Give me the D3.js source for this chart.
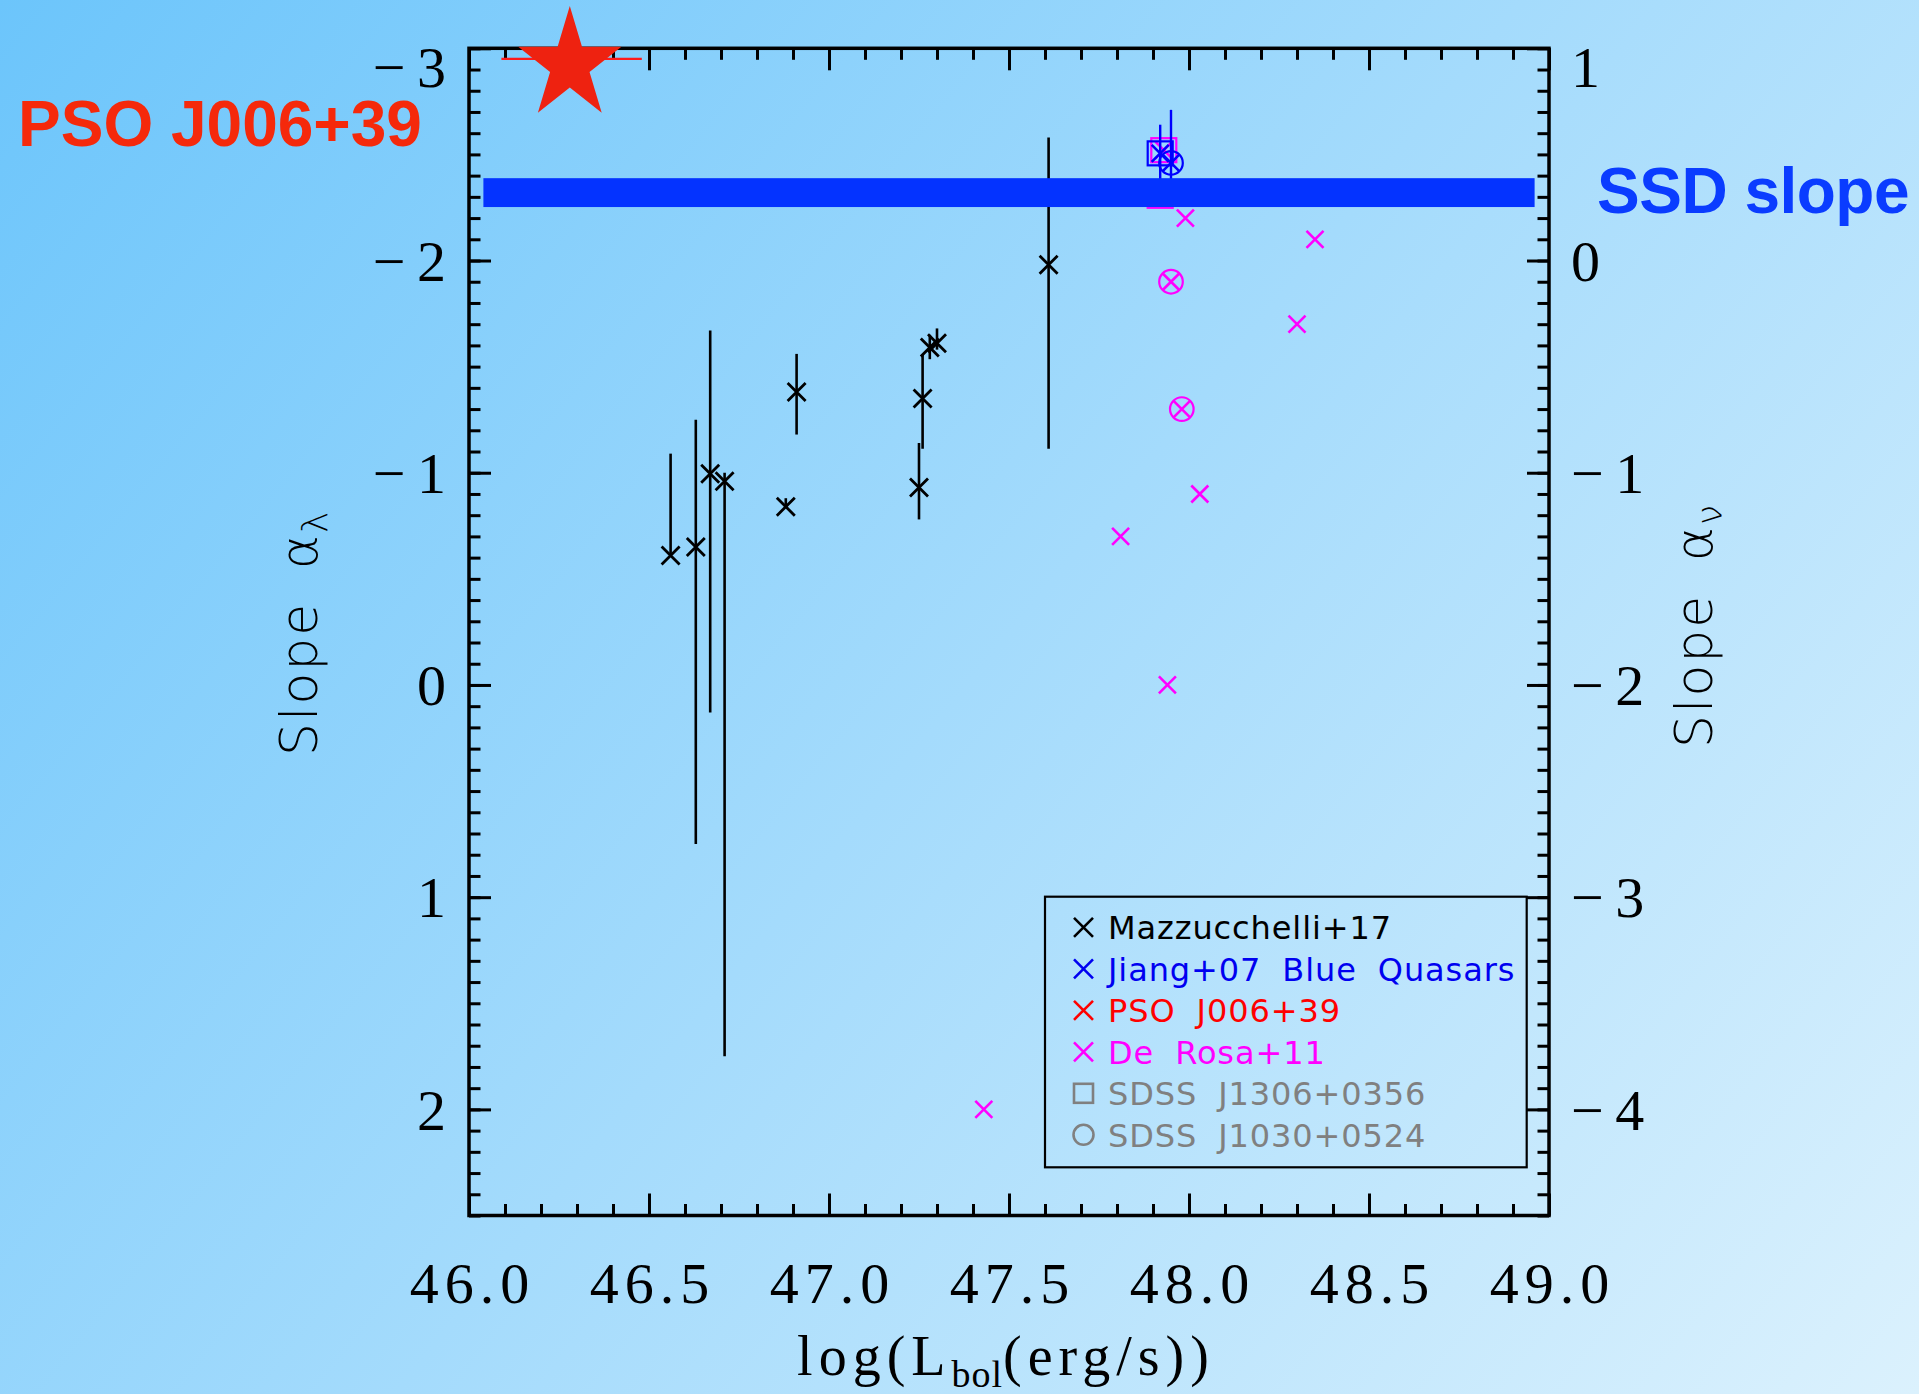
<!DOCTYPE html>
<html><head><meta charset="utf-8">
<script src="https://cdn.jsdelivr.net/npm/d3@7"></script>
<style>
html,body{margin:0;padding:0;overflow:hidden;background:#fff;}
svg{display:block;}
</style></head><body>
<svg id="chart" width="1919" height="1394"></svg>
<script>
// ---------- data ----------
// Mazzucchelli+17 quasars: log Lbol, slope alpha_lambda, error-bar ends
const mazLbol  = [46.56, 46.63, 46.67, 46.71, 46.88, 46.91, 47.25, 47.26, 47.28, 47.30, 47.61];
const mazSlope = [-0.61, -0.65, -0.995, -0.96, -0.84, -1.38, -0.93, -1.35, -1.59, -1.61, -1.98];
const mazErrLo = [-1.09, -1.25, -1.67, -1.00, -0.88, -1.56, -1.14, -1.556, -1.65, -1.68, -2.58];
const mazErrHi = [-0.61, 0.75, 0.13, 1.75, -0.84, -1.18, -0.78, -1.113, -1.535, -1.58, -1.113];

// Jiang+07 blue quasars (first: SDSS J1306+0356, second: SDSS J1030+0524)
const jiangLbol  = [47.92, 47.95];
const jiangSlope = [-2.505, -2.46];
const jiangErrLo = [-2.64, -2.71];
const jiangErrHi = [-2.30, -2.28];
const jiangTag   = ["square", "circle"];

// De Rosa+11
const deRosaLbol  = [47.93, 47.92, 47.99, 48.35, 47.95, 48.30, 47.98, 48.03, 47.81, 47.94, 47.43];
const deRosaSlope = [-2.52, -2.305, -2.20, -2.10, -1.90, -1.70, -1.30, -0.90, -0.70, 0.00, 2.00];
const deRosaTag   = ["square", "square", "", "", "circle", "", "circle", "", "", "", ""];

// PSO J006+39
const psoLbol = [46.28];
const psoSlope = [-2.95];
const psoLbolErr = [[46.09, 46.48]];

// Standard thin disc slope band (alpha_lambda)
const ssdSlope = -2.32;
const ssdHalfWidth = 0.068;
const ssdLbolRange = [46.04, 48.96];

// axis ticks
const xMajor = [46.0, 46.5, 47.0, 47.5, 48.0, 48.5, 49.0];
const yMajor = [-3, -2, -1, 0, 1, 2];
const yRMajor = [1, 0, -1, -2, -3, -4];

// legend entries
const legendLabels = ["Mazzucchelli+17", "Jiang+07 Blue Quasars", "PSO J006+39", "De Rosa+11", "SDSS J1306+0356", "SDSS J1030+0524"];
const legendColors = ["#000000", "#0000f0", "#ff0000", "#ff00ff", "#808080", "#808080"];
const legendSymbols = ["x", "x", "x", "x", "square", "circle"];

// ---------- layout ----------
const W = 1919, H = 1394;
const svg = d3.select("#chart");
const defs = svg.append("defs");
const grad = defs.append("linearGradient").attr("id", "bg")
  .attr("gradientUnits", "userSpaceOnUse")
  .attr("x1", 0).attr("y1", 0).attr("x2", 1842).attr("y2", 1489);
grad.append("stop").attr("offset", 0).attr("stop-color", "#6cc5fb");
grad.append("stop").attr("offset", 0.5).attr("stop-color", "#a4dbfc");
grad.append("stop").attr("offset", 1).attr("stop-color", "#dbf1fd");
svg.append("rect").attr("width", W).attr("height", H).attr("fill", "url(#bg)");

const X0 = 469, X1 = 1549, Y0 = 48.3, Y1 = 1215.5;
const x = d3.scaleLinear().domain([46, 49]).range([X0, X1]);
const y = d3.scaleLinear().domain([-3, 2.5]).range([Y0, Y1]);
const yR = d3.scaleLinear().domain([1, -4.5]).range([Y0, Y1]);

const serif = "'Liberation Serif', 'Times New Roman', serif";
const sans = "'DejaVu Sans', 'Noto Sans', sans-serif";

const stepRange = (a, b, s) => d3.range(Math.round((b - a) / s) + 1).map(i => +(a + i * s).toFixed(4));
const xMinor = stepRange(46, 49, 0.1);
const yMinor = stepRange(-3, 2.5, 0.1);
const yRMinor = stepRange(-4.5, 1, 0.1);

const MAJ = 22, MIN = 11.5;

function styleAxis(g) {
  g.select(".domain").remove();
  g.selectAll(".tick line").attr("stroke", "#000").attr("stroke-width", 3);
  g.selectAll("text").attr("fill", "#000");
}

// bottom axis
const gB = svg.append("g").attr("transform", `translate(0,${Y1})`);
gB.append("g").call(d3.axisBottom(x).tickValues(xMinor).tickSize(-MIN).tickFormat("")).call(styleAxis);
gB.append("g").call(d3.axisBottom(x).tickValues(xMajor).tickSize(-MAJ).tickFormat(d3.format(".1f")))
  .call(styleAxis)
  .call(g => g.selectAll("text").attr("y", 87.5).attr("dy", 0).attr("dx", 3)
    .attr("font-family", serif).attr("font-size", 58).attr("letter-spacing", 6));

// top axis
const gT = svg.append("g").attr("transform", `translate(0,${Y0})`);
gT.append("g").call(d3.axisTop(x).tickValues(xMinor).tickSize(-MIN).tickFormat("")).call(styleAxis);
gT.append("g").call(d3.axisTop(x).tickValues(xMajor).tickSize(-MAJ).tickFormat("")).call(styleAxis);

const fmtSigned = d => d < 0 ? "\u2212\u2009" + (-d) : String(d);

// left axis
const gL = svg.append("g").attr("transform", `translate(${X0},0)`);
gL.append("g").call(d3.axisLeft(y).tickValues(yMinor).tickSize(-MIN).tickFormat("")).call(styleAxis);
gL.append("g").call(d3.axisLeft(y).tickValues(yMajor).tickSize(-MAJ).tickPadding(23).tickFormat(fmtSigned))
  .call(styleAxis)
  .call(g => g.selectAll("text").attr("font-family", serif).attr("font-size", 58)
    .attr("dy", d => d === -3 ? "0.66em" : "0.34em"));

// right axis
const gR = svg.append("g").attr("transform", `translate(${X1},0)`);
gR.append("g").call(d3.axisRight(yR).tickValues(yRMinor).tickSize(-MIN).tickFormat("")).call(styleAxis);
gR.append("g").call(d3.axisRight(yR).tickValues(yRMajor).tickSize(-MAJ).tickPadding(22).tickFormat(fmtSigned))
  .call(styleAxis)
  .call(g => g.selectAll("text").attr("font-family", serif).attr("font-size", 58)
    .attr("dy", d => d === 1 ? "0.66em" : "0.34em"));

// frame
svg.append("rect").attr("x", X0).attr("y", Y0).attr("width", X1 - X0).attr("height", Y1 - Y0)
  .attr("fill", "none").attr("stroke", "#000").attr("stroke-width", 3.5);

// axis titles
const xt = svg.append("text").attr("x", 1006).attr("y", 1375).attr("text-anchor", "middle")
  .attr("font-family", serif).attr("font-size", 56).attr("letter-spacing", 6).attr("fill", "#000");
xt.append("tspan").text("log(L");
xt.append("tspan").attr("font-size", 38).attr("dy", 12).attr("letter-spacing", 1).text("bol");
xt.append("tspan").attr("dy", -12).text("(erg/s))");

const ytl = svg.append("text").attr("transform", "translate(317,756) rotate(-90)")
  .attr("font-family", sans).attr("font-weight", 200).attr("font-size", 52).attr("fill", "#000")
  .attr("letter-spacing", 2).attr("word-spacing", 14);
ytl.append("tspan").text("Slope \u03b1");
ytl.append("tspan").attr("font-size", 36).attr("dy", 10).text("\u03bb");

const ytr = svg.append("text").attr("transform", "translate(1712,748) rotate(-90)")
  .attr("font-family", sans).attr("font-weight", 200).attr("font-size", 52).attr("fill", "#000")
  .attr("letter-spacing", 2).attr("word-spacing", 14);
ytr.append("tspan").text("Slope \u03b1");
ytr.append("tspan").attr("font-size", 36).attr("dy", 10).text("\u03bd");

// ---------- marks ----------
const plot = svg.append("g");
const xPath = s => `M${-s},${-s}L${s},${s}M${-s},${s}L${s},${-s}`;

function drawTag(g, tag, color, cx, cy) {
  if (tag === "square") {
    g.append("rect").attr("x", cx - 12.5).attr("y", cy - 12).attr("width", 25).attr("height", 24)
      .attr("fill", "none").attr("stroke", color).attr("stroke-width", 2.2);
  } else if (tag === "circle") {
    g.append("circle").attr("cx", cx).attr("cy", cy).attr("r", 11.8)
      .attr("fill", "none").attr("stroke", color).attr("stroke-width", 2.2);
  }
}

// De Rosa+11
deRosaLbol.forEach((lb, i) => {
  const cx = x(lb), cy = y(deRosaSlope[i]);
  plot.append("path").attr("d", xPath(8.5)).attr("transform", `translate(${cx},${cy})`)
    .attr("stroke", "#ff00ff").attr("stroke-width", 2.6).attr("fill", "none");
  drawTag(plot, deRosaTag[i], "#ff00ff", cx, cy);
});

// Mazzucchelli+17
mazLbol.forEach((lb, i) => {
  const cx = x(lb);
  plot.append("line").attr("x1", cx).attr("x2", cx).attr("y1", y(mazErrLo[i])).attr("y2", y(mazErrHi[i]))
    .attr("stroke", "#000").attr("stroke-width", 2.6);
  plot.append("path").attr("d", xPath(9)).attr("transform", `translate(${cx},${y(mazSlope[i])})`)
    .attr("stroke", "#000").attr("stroke-width", 2.8).attr("fill", "none");
});

// Jiang+07
jiangLbol.forEach((lb, i) => {
  const cx = x(lb), cy = y(jiangSlope[i]);
  plot.append("line").attr("x1", cx).attr("x2", cx).attr("y1", y(jiangErrLo[i])).attr("y2", y(jiangErrHi[i]))
    .attr("stroke", "#0000ff").attr("stroke-width", 2.4);
  plot.append("path").attr("d", xPath(8.5)).attr("transform", `translate(${cx},${cy})`)
    .attr("stroke", "#0000ff").attr("stroke-width", 2.6).attr("fill", "none");
  drawTag(plot, jiangTag[i], "#0000ff", cx, cy);
});

// SSD band
plot.append("rect")
  .attr("x", x(ssdLbolRange[0])).attr("width", x(ssdLbolRange[1]) - x(ssdLbolRange[0]))
  .attr("y", y(ssdSlope - ssdHalfWidth)).attr("height", y(ssdSlope + ssdHalfWidth) - y(ssdSlope - ssdHalfWidth))
  .attr("fill", "#0433ff");

// PSO J006+39: error bar and star
psoLbol.forEach((lb, i) => {
  const cy = y(psoSlope[i]);
  plot.append("line").attr("x1", x(psoLbolErr[i][0])).attr("x2", x(psoLbolErr[i][1]))
    .attr("y1", cy).attr("y2", cy).attr("stroke", "#ff1a1a").attr("stroke-width", 2.4);
  const R = 59, r = R * 0.382;
  const pts = d3.range(10).map(k => {
    const a = -Math.PI / 2 + k * Math.PI / 5, rr = k % 2 ? r : R;
    return [rr * Math.cos(a) * 0.92, rr * Math.sin(a)];
  });
  plot.append("path").attr("d", "M" + pts.map(p => p.join(",")).join("L") + "Z")
    .attr("transform", `translate(${x(lb)},${cy + 6})`).attr("fill", "#ee2210");
});

// annotations
svg.append("text").attr("x", 18).attr("y", 145.5).text("PSO J006+39")
  .attr("font-family", "'Liberation Sans', Arial, sans-serif").attr("font-weight", "bold")
  .attr("font-size", 64).attr("fill", "#f5290b");
svg.append("text").attr("x", 1597).attr("y", 213).text("SSD slope")
  .attr("font-family", "'Liberation Sans', Arial, sans-serif").attr("font-weight", "bold")
  .attr("font-size", 64).attr("letter-spacing", -0.5).attr("fill", "#0a3cff");

// ---------- legend ----------
const lg = svg.append("g");
lg.append("rect").attr("x", 1045).attr("y", 896.7).attr("width", 481.7).attr("height", 270.6)
  .attr("fill", "none").attr("stroke", "#000").attr("stroke-width", 2.2);
legendLabels.forEach((lab, i) => {
  const cy = 927.3 + i * 41.5, col = legendColors[i];
  const sym = legendSymbols[i];
  if (sym === "x") {
    lg.append("path").attr("d", xPath(9.5)).attr("transform", `translate(1083.5,${cy})`)
      .attr("stroke", col).attr("stroke-width", 2.6).attr("fill", "none");
  } else if (sym === "square") {
    lg.append("rect").attr("x", 1074).attr("y", cy - 9.5).attr("width", 19).attr("height", 19)
      .attr("fill", "none").attr("stroke", col).attr("stroke-width", 2.6);
  } else {
    lg.append("circle").attr("cx", 1083.5).attr("cy", cy).attr("r", 10)
      .attr("fill", "none").attr("stroke", col).attr("stroke-width", 2.6);
  }
  lg.append("text").attr("x", 1108).attr("y", cy + 12).text(lab)
    .attr("font-family", sans).attr("font-size", 32).attr("letter-spacing", 0.9)
    .attr("word-spacing", 10).attr("fill", col);
});
</script>
</body></html>
